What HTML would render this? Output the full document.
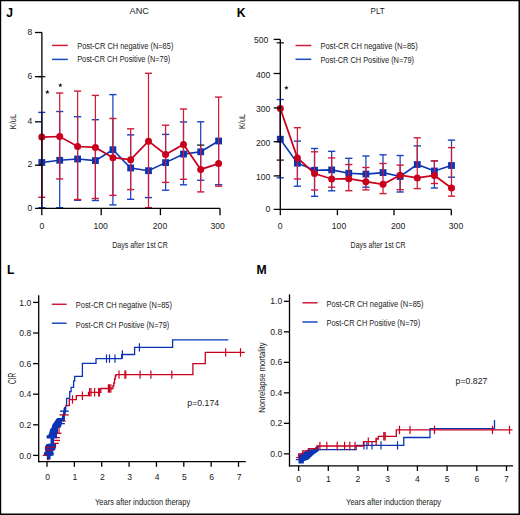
<!DOCTYPE html>
<html><head><meta charset="utf-8"><title>Figure</title>
<style>
html,body{margin:0;padding:0;background:#fff;width:520px;height:515px;overflow:hidden}
svg{display:block}
text{font-family:"Liberation Sans",sans-serif}
</style></head>
<body>
<svg width="520" height="515" viewBox="0 0 520 515">
<rect x="0" y="0" width="520" height="515" fill="#fff"/>
<line x1="0" y1="0.6" x2="520" y2="0.6" stroke="#000" stroke-width="1.2"/>
<line x1="0.6" y1="0" x2="0.6" y2="515" stroke="#000" stroke-width="1.2"/>
<line x1="519.25" y1="0" x2="519.25" y2="515" stroke="#000" stroke-width="1.5"/>
<line x1="0" y1="514.25" x2="520" y2="514.25" stroke="#000" stroke-width="1.5"/>
<text x="6.3" y="16.9" font-size="12.2" font-weight="bold" fill="#000">J</text>
<text x="129.6" y="13.8" font-size="9.1" textLength="19.2" lengthAdjust="spacingAndGlyphs" fill="#1a1a1a">ANC</text>
<line x1="52" y1="45.4" x2="67.8" y2="45.4" stroke="#d01c38" stroke-width="1.5"/>
<line x1="52" y1="59.4" x2="67.8" y2="59.4" stroke="#1a4cc0" stroke-width="1.5"/>
<text x="77.2" y="48.6" font-size="8.3" textLength="96.2" lengthAdjust="spacingAndGlyphs" fill="#1a1a1a">Post-CR CH negative (N=85)</text>
<text x="77.2" y="62.4" font-size="8.3" textLength="93" lengthAdjust="spacingAndGlyphs" fill="#1a1a1a">Post-CR CH Positive (N=79)</text>
<polygon points="47.35,89.8 47.94,91.29 49.54,91.39 48.3,92.41 48.7,93.96 47.35,93.1 46,93.96 46.4,92.41 45.16,91.39 46.76,91.29" fill="#111"/>
<polygon points="60.3,82.9 60.89,84.39 62.49,84.49 61.25,85.51 61.65,87.06 60.3,86.2 58.95,87.06 59.35,85.51 58.11,84.49 59.71,84.39" fill="#111"/>
<line x1="41.8" y1="112.4" x2="41.8" y2="207.7" stroke="#1a44bf" stroke-width="1.25"/>
<line x1="38.2" y1="112.4" x2="45.4" y2="112.4" stroke="#1a44bf" stroke-width="1.4"/>
<line x1="38.2" y1="207.7" x2="45.4" y2="207.7" stroke="#1a44bf" stroke-width="1.4"/>
<line x1="59.7" y1="111.5" x2="59.7" y2="207.7" stroke="#1a44bf" stroke-width="1.25"/>
<line x1="56.1" y1="111.5" x2="63.3" y2="111.5" stroke="#1a44bf" stroke-width="1.4"/>
<line x1="56.1" y1="207.7" x2="63.3" y2="207.7" stroke="#1a44bf" stroke-width="1.4"/>
<line x1="77.6" y1="116.7" x2="77.6" y2="200.3" stroke="#1a44bf" stroke-width="1.25"/>
<line x1="74" y1="116.7" x2="81.2" y2="116.7" stroke="#1a44bf" stroke-width="1.4"/>
<line x1="74" y1="200.3" x2="81.2" y2="200.3" stroke="#1a44bf" stroke-width="1.4"/>
<line x1="95.4" y1="119.7" x2="95.4" y2="200.5" stroke="#1a44bf" stroke-width="1.25"/>
<line x1="91.8" y1="119.7" x2="99" y2="119.7" stroke="#1a44bf" stroke-width="1.4"/>
<line x1="91.8" y1="200.5" x2="99" y2="200.5" stroke="#1a44bf" stroke-width="1.4"/>
<line x1="112.9" y1="94.6" x2="112.9" y2="204.9" stroke="#1a44bf" stroke-width="1.25"/>
<line x1="109.3" y1="94.6" x2="116.5" y2="94.6" stroke="#1a44bf" stroke-width="1.4"/>
<line x1="109.3" y1="204.9" x2="116.5" y2="204.9" stroke="#1a44bf" stroke-width="1.4"/>
<line x1="130.65" y1="134.9" x2="130.65" y2="199.3" stroke="#1a44bf" stroke-width="1.25"/>
<line x1="127.05" y1="134.9" x2="134.25" y2="134.9" stroke="#1a44bf" stroke-width="1.4"/>
<line x1="127.05" y1="199.3" x2="134.25" y2="199.3" stroke="#1a44bf" stroke-width="1.4"/>
<line x1="148.5" y1="170.7" x2="148.5" y2="197.6" stroke="#1a44bf" stroke-width="1.25"/>
<line x1="144.9" y1="197.6" x2="152.1" y2="197.6" stroke="#1a44bf" stroke-width="1.4"/>
<line x1="165.6" y1="134.4" x2="165.6" y2="190.2" stroke="#1a44bf" stroke-width="1.25"/>
<line x1="162" y1="134.4" x2="169.2" y2="134.4" stroke="#1a44bf" stroke-width="1.4"/>
<line x1="162" y1="190.2" x2="169.2" y2="190.2" stroke="#1a44bf" stroke-width="1.4"/>
<line x1="183.5" y1="122" x2="183.5" y2="184.8" stroke="#1a44bf" stroke-width="1.25"/>
<line x1="179.9" y1="122" x2="187.1" y2="122" stroke="#1a44bf" stroke-width="1.4"/>
<line x1="179.9" y1="184.8" x2="187.1" y2="184.8" stroke="#1a44bf" stroke-width="1.4"/>
<line x1="200.7" y1="121.8" x2="200.7" y2="180.3" stroke="#1a44bf" stroke-width="1.25"/>
<line x1="197.1" y1="121.8" x2="204.3" y2="121.8" stroke="#1a44bf" stroke-width="1.4"/>
<line x1="197.1" y1="180.3" x2="204.3" y2="180.3" stroke="#1a44bf" stroke-width="1.4"/>
<line x1="218.6" y1="141" x2="218.6" y2="184.7" stroke="#1a44bf" stroke-width="1.25"/>
<line x1="215" y1="184.7" x2="222.2" y2="184.7" stroke="#1a44bf" stroke-width="1.4"/>
<polyline points="41.8,162.5 59.7,160.3 77.6,159 95.4,160.6 112.9,149.7 130.65,168 148.5,170.7 165.6,162.6 183.5,154.1 200.7,151.8 218.6,141" fill="none" stroke="#0a34b4" stroke-width="1.6" stroke-linejoin="miter"/>
<rect x="38.4" y="159.1" width="6.8" height="6.8" fill="#0a34b4"/>
<rect x="56.3" y="156.9" width="6.8" height="6.8" fill="#0a34b4"/>
<rect x="74.2" y="155.6" width="6.8" height="6.8" fill="#0a34b4"/>
<rect x="92" y="157.2" width="6.8" height="6.8" fill="#0a34b4"/>
<rect x="109.5" y="146.3" width="6.8" height="6.8" fill="#0a34b4"/>
<rect x="127.25" y="164.6" width="6.8" height="6.8" fill="#0a34b4"/>
<rect x="145.1" y="167.3" width="6.8" height="6.8" fill="#0a34b4"/>
<rect x="162.2" y="159.2" width="6.8" height="6.8" fill="#0a34b4"/>
<rect x="180.1" y="150.7" width="6.8" height="6.8" fill="#0a34b4"/>
<rect x="197.3" y="148.4" width="6.8" height="6.8" fill="#0a34b4"/>
<rect x="215.2" y="137.6" width="6.8" height="6.8" fill="#0a34b4"/>
<line x1="41.8" y1="137.1" x2="41.8" y2="197.3" stroke="#d01c36" stroke-width="1.25"/>
<line x1="38.2" y1="197.3" x2="45.4" y2="197.3" stroke="#d01c36" stroke-width="1.4"/>
<line x1="59.7" y1="93" x2="59.7" y2="179" stroke="#d01c36" stroke-width="1.25"/>
<line x1="56.1" y1="93" x2="63.3" y2="93" stroke="#d01c36" stroke-width="1.4"/>
<line x1="56.1" y1="179" x2="63.3" y2="179" stroke="#d01c36" stroke-width="1.4"/>
<line x1="77.6" y1="91.1" x2="77.6" y2="199.5" stroke="#d01c36" stroke-width="1.25"/>
<line x1="74" y1="91.1" x2="81.2" y2="91.1" stroke="#d01c36" stroke-width="1.4"/>
<line x1="74" y1="199.5" x2="81.2" y2="199.5" stroke="#d01c36" stroke-width="1.4"/>
<line x1="95.4" y1="95.4" x2="95.4" y2="198.5" stroke="#d01c36" stroke-width="1.25"/>
<line x1="91.8" y1="95.4" x2="99" y2="95.4" stroke="#d01c36" stroke-width="1.4"/>
<line x1="91.8" y1="198.5" x2="99" y2="198.5" stroke="#d01c36" stroke-width="1.4"/>
<line x1="112.9" y1="118.5" x2="112.9" y2="195.4" stroke="#d01c36" stroke-width="1.25"/>
<line x1="109.3" y1="118.5" x2="116.5" y2="118.5" stroke="#d01c36" stroke-width="1.4"/>
<line x1="109.3" y1="195.4" x2="116.5" y2="195.4" stroke="#d01c36" stroke-width="1.4"/>
<line x1="130.65" y1="128.8" x2="130.65" y2="189.6" stroke="#d01c36" stroke-width="1.25"/>
<line x1="127.05" y1="128.8" x2="134.25" y2="128.8" stroke="#d01c36" stroke-width="1.4"/>
<line x1="127.05" y1="189.6" x2="134.25" y2="189.6" stroke="#d01c36" stroke-width="1.4"/>
<line x1="148.5" y1="73.3" x2="148.5" y2="207.6" stroke="#d01c36" stroke-width="1.25"/>
<line x1="144.9" y1="73.3" x2="152.1" y2="73.3" stroke="#d01c36" stroke-width="1.4"/>
<line x1="144.9" y1="207.6" x2="152.1" y2="207.6" stroke="#d01c36" stroke-width="1.4"/>
<line x1="165.6" y1="125.2" x2="165.6" y2="182.4" stroke="#d01c36" stroke-width="1.25"/>
<line x1="162" y1="125.2" x2="169.2" y2="125.2" stroke="#d01c36" stroke-width="1.4"/>
<line x1="162" y1="182.4" x2="169.2" y2="182.4" stroke="#d01c36" stroke-width="1.4"/>
<line x1="183.5" y1="109" x2="183.5" y2="179.3" stroke="#d01c36" stroke-width="1.25"/>
<line x1="179.9" y1="109" x2="187.1" y2="109" stroke="#d01c36" stroke-width="1.4"/>
<line x1="179.9" y1="179.3" x2="187.1" y2="179.3" stroke="#d01c36" stroke-width="1.4"/>
<line x1="200.7" y1="145.1" x2="200.7" y2="191.9" stroke="#d01c36" stroke-width="1.25"/>
<line x1="197.1" y1="191.9" x2="204.3" y2="191.9" stroke="#d01c36" stroke-width="1.4"/>
<line x1="218.6" y1="97.1" x2="218.6" y2="186.2" stroke="#d01c36" stroke-width="1.25"/>
<line x1="215" y1="97.1" x2="222.2" y2="97.1" stroke="#d01c36" stroke-width="1.4"/>
<line x1="215" y1="186.2" x2="222.2" y2="186.2" stroke="#d01c36" stroke-width="1.4"/>
<line x1="38.2" y1="76.65" x2="45.4" y2="76.65" stroke="#2a2a2a" stroke-width="1.4"/>
<line x1="197.1" y1="145.1" x2="204.3" y2="145.1" stroke="#2a2a2a" stroke-width="1.4"/>
<polyline points="41.8,137.1 59.7,136.5 77.6,146.5 95.4,147.4 112.9,157.7 130.65,159.7 148.5,141.2 165.6,154.4 183.5,144.4 200.7,169.4 218.6,163.6" fill="none" stroke="#c8001e" stroke-width="1.7" stroke-linejoin="miter"/>
<circle cx="41.8" cy="137.1" r="3.5" fill="#c8001e"/>
<circle cx="59.7" cy="136.5" r="3.5" fill="#c8001e"/>
<circle cx="77.6" cy="146.5" r="3.5" fill="#c8001e"/>
<circle cx="95.4" cy="147.4" r="3.5" fill="#c8001e"/>
<circle cx="112.9" cy="157.7" r="3.5" fill="#c8001e"/>
<circle cx="130.65" cy="159.7" r="3.5" fill="#c8001e"/>
<circle cx="148.5" cy="141.2" r="3.5" fill="#c8001e"/>
<circle cx="165.6" cy="154.4" r="3.5" fill="#c8001e"/>
<circle cx="183.5" cy="144.4" r="3.5" fill="#c8001e"/>
<circle cx="200.7" cy="169.4" r="3.5" fill="#c8001e"/>
<circle cx="218.6" cy="163.6" r="3.5" fill="#c8001e"/>
<line x1="41.9" y1="32.5" x2="41.9" y2="209.05" stroke="#000" stroke-width="1.3"/>
<line x1="35" y1="208.4" x2="220.2" y2="208.4" stroke="#000" stroke-width="1.3"/>
<line x1="35" y1="32.5" x2="41.9" y2="32.5" stroke="#000" stroke-width="1.3"/>
<line x1="35" y1="76.65" x2="41.9" y2="76.65" stroke="#000" stroke-width="1.3"/>
<line x1="35" y1="121.8" x2="41.9" y2="121.8" stroke="#000" stroke-width="1.3"/>
<line x1="35" y1="165.2" x2="41.9" y2="165.2" stroke="#000" stroke-width="1.3"/>
<line x1="41.8" y1="208.4" x2="41.8" y2="215.2" stroke="#000" stroke-width="1.3"/>
<line x1="101.2" y1="208.4" x2="101.2" y2="215.2" stroke="#000" stroke-width="1.3"/>
<line x1="160.4" y1="208.4" x2="160.4" y2="215.2" stroke="#000" stroke-width="1.3"/>
<line x1="220" y1="208.4" x2="220" y2="215.2" stroke="#000" stroke-width="1.3"/>
<text x="32.3" y="34.6" font-size="8.6" text-anchor="end" fill="#1a1a1a">8</text>
<text x="32.3" y="78.75" font-size="8.6" text-anchor="end" fill="#1a1a1a">6</text>
<text x="32.3" y="123.9" font-size="8.6" text-anchor="end" fill="#1a1a1a">4</text>
<text x="32.3" y="167.3" font-size="8.6" text-anchor="end" fill="#1a1a1a">2</text>
<text x="32.3" y="210.5" font-size="8.6" text-anchor="end" fill="#1a1a1a">0</text>
<text x="41.8" y="229.2" font-size="8.6" text-anchor="middle" fill="#1a1a1a">0</text>
<text x="100.6" y="229.2" font-size="8.6" text-anchor="middle" fill="#1a1a1a">100</text>
<text x="160" y="229.2" font-size="8.6" text-anchor="middle" fill="#1a1a1a">200</text>
<text x="217.7" y="229.2" font-size="8.6" text-anchor="middle" fill="#1a1a1a">300</text>
<text x="112.2" y="247.9" font-size="9.6" textLength="55.6" lengthAdjust="spacingAndGlyphs" fill="#1a1a1a">Days after 1st CR</text>
<text x="16.2" y="121.6" font-size="9.8" textLength="15.2" lengthAdjust="spacingAndGlyphs" text-anchor="middle" fill="#1a1a1a" transform="rotate(-90 16.2 121.6)">K/uL</text>
<text x="236.8" y="16.7" font-size="12.2" font-weight="bold" fill="#000">K</text>
<text x="370.6" y="13.8" font-size="9.1" textLength="14" lengthAdjust="spacingAndGlyphs" fill="#1a1a1a">PLT</text>
<line x1="295.5" y1="45.5" x2="311.3" y2="45.5" stroke="#d01c38" stroke-width="1.5"/>
<line x1="295.5" y1="59.3" x2="311.3" y2="59.3" stroke="#1a4cc0" stroke-width="1.5"/>
<text x="320.4" y="48.8" font-size="8.3" textLength="97.4" lengthAdjust="spacingAndGlyphs" fill="#1a1a1a">Post-CR CH negative (N=85)</text>
<text x="320.4" y="62.6" font-size="8.3" textLength="93.6" lengthAdjust="spacingAndGlyphs" fill="#1a1a1a">Post-CR CH Positive (N=79)</text>
<polygon points="286.4,85.5 286.99,86.99 288.59,87.09 287.35,88.11 287.75,89.66 286.4,88.8 285.05,89.66 285.45,88.11 284.21,87.09 285.81,86.99" fill="#111"/>
<line x1="280.3" y1="99.5" x2="280.3" y2="177.8" stroke="#1a44bf" stroke-width="1.25"/>
<line x1="276.7" y1="99.5" x2="283.9" y2="99.5" stroke="#1a44bf" stroke-width="1.4"/>
<line x1="276.7" y1="177.8" x2="283.9" y2="177.8" stroke="#1a44bf" stroke-width="1.4"/>
<line x1="297.42" y1="141.1" x2="297.42" y2="186.2" stroke="#1a44bf" stroke-width="1.25"/>
<line x1="293.82" y1="141.1" x2="301.02" y2="141.1" stroke="#1a44bf" stroke-width="1.4"/>
<line x1="293.82" y1="186.2" x2="301.02" y2="186.2" stroke="#1a44bf" stroke-width="1.4"/>
<line x1="314.54" y1="148.5" x2="314.54" y2="196.3" stroke="#1a44bf" stroke-width="1.25"/>
<line x1="310.94" y1="148.5" x2="318.14" y2="148.5" stroke="#1a44bf" stroke-width="1.4"/>
<line x1="310.94" y1="196.3" x2="318.14" y2="196.3" stroke="#1a44bf" stroke-width="1.4"/>
<line x1="331.66" y1="151.3" x2="331.66" y2="190.8" stroke="#1a44bf" stroke-width="1.25"/>
<line x1="328.06" y1="151.3" x2="335.26" y2="151.3" stroke="#1a44bf" stroke-width="1.4"/>
<line x1="328.06" y1="190.8" x2="335.26" y2="190.8" stroke="#1a44bf" stroke-width="1.4"/>
<line x1="348.78" y1="158.3" x2="348.78" y2="173.2" stroke="#1a44bf" stroke-width="1.25"/>
<line x1="345.18" y1="158.3" x2="352.38" y2="158.3" stroke="#1a44bf" stroke-width="1.4"/>
<line x1="365.9" y1="156" x2="365.9" y2="187.2" stroke="#1a44bf" stroke-width="1.25"/>
<line x1="362.3" y1="156" x2="369.5" y2="156" stroke="#1a44bf" stroke-width="1.4"/>
<line x1="362.3" y1="187.2" x2="369.5" y2="187.2" stroke="#1a44bf" stroke-width="1.4"/>
<line x1="383.02" y1="154.8" x2="383.02" y2="172.6" stroke="#1a44bf" stroke-width="1.25"/>
<line x1="379.42" y1="154.8" x2="386.62" y2="154.8" stroke="#1a44bf" stroke-width="1.4"/>
<line x1="400.14" y1="155.5" x2="400.14" y2="192" stroke="#1a44bf" stroke-width="1.25"/>
<line x1="396.54" y1="155.5" x2="403.74" y2="155.5" stroke="#1a44bf" stroke-width="1.4"/>
<line x1="396.54" y1="192" x2="403.74" y2="192" stroke="#1a44bf" stroke-width="1.4"/>
<line x1="417.26" y1="145.9" x2="417.26" y2="164.5" stroke="#1a44bf" stroke-width="1.25"/>
<line x1="413.66" y1="145.9" x2="420.86" y2="145.9" stroke="#1a44bf" stroke-width="1.4"/>
<line x1="434.38" y1="161" x2="434.38" y2="188" stroke="#1a44bf" stroke-width="1.25"/>
<line x1="430.78" y1="161" x2="437.98" y2="161" stroke="#1a44bf" stroke-width="1.4"/>
<line x1="430.78" y1="188" x2="437.98" y2="188" stroke="#1a44bf" stroke-width="1.4"/>
<line x1="451.5" y1="140.1" x2="451.5" y2="177.2" stroke="#1a44bf" stroke-width="1.25"/>
<line x1="447.9" y1="140.1" x2="455.1" y2="140.1" stroke="#1a44bf" stroke-width="1.4"/>
<line x1="447.9" y1="177.2" x2="455.1" y2="177.2" stroke="#1a44bf" stroke-width="1.4"/>
<polyline points="280.3,139.2 297.42,163.2 314.54,170.2 331.66,169.9 348.78,173.2 365.9,174.1 383.02,172.6 400.14,176.5 417.26,164.5 434.38,171 451.5,165.5" fill="none" stroke="#0a34b4" stroke-width="1.6" stroke-linejoin="miter"/>
<rect x="276.9" y="135.8" width="6.8" height="6.8" fill="#0a34b4"/>
<rect x="294.02" y="159.8" width="6.8" height="6.8" fill="#0a34b4"/>
<rect x="311.14" y="166.8" width="6.8" height="6.8" fill="#0a34b4"/>
<rect x="328.26" y="166.5" width="6.8" height="6.8" fill="#0a34b4"/>
<rect x="345.38" y="169.8" width="6.8" height="6.8" fill="#0a34b4"/>
<rect x="362.5" y="170.7" width="6.8" height="6.8" fill="#0a34b4"/>
<rect x="379.62" y="169.2" width="6.8" height="6.8" fill="#0a34b4"/>
<rect x="396.74" y="173.1" width="6.8" height="6.8" fill="#0a34b4"/>
<rect x="413.86" y="161.1" width="6.8" height="6.8" fill="#0a34b4"/>
<rect x="430.98" y="167.6" width="6.8" height="6.8" fill="#0a34b4"/>
<rect x="448.1" y="162.1" width="6.8" height="6.8" fill="#0a34b4"/>
<line x1="280.3" y1="108.6" x2="280.3" y2="176" stroke="#d01c36" stroke-width="1.25"/>
<line x1="297.42" y1="127.7" x2="297.42" y2="179" stroke="#d01c36" stroke-width="1.25"/>
<line x1="293.82" y1="127.7" x2="301.02" y2="127.7" stroke="#d01c36" stroke-width="1.4"/>
<line x1="293.82" y1="179" x2="301.02" y2="179" stroke="#d01c36" stroke-width="1.4"/>
<line x1="314.54" y1="151.8" x2="314.54" y2="190" stroke="#d01c36" stroke-width="1.25"/>
<line x1="310.94" y1="151.8" x2="318.14" y2="151.8" stroke="#d01c36" stroke-width="1.4"/>
<line x1="310.94" y1="190" x2="318.14" y2="190" stroke="#d01c36" stroke-width="1.4"/>
<line x1="331.66" y1="157.9" x2="331.66" y2="187.2" stroke="#d01c36" stroke-width="1.25"/>
<line x1="328.06" y1="157.9" x2="335.26" y2="157.9" stroke="#d01c36" stroke-width="1.4"/>
<line x1="328.06" y1="187.2" x2="335.26" y2="187.2" stroke="#d01c36" stroke-width="1.4"/>
<line x1="348.78" y1="164.5" x2="348.78" y2="190.7" stroke="#d01c36" stroke-width="1.25"/>
<line x1="345.18" y1="164.5" x2="352.38" y2="164.5" stroke="#d01c36" stroke-width="1.4"/>
<line x1="345.18" y1="190.7" x2="352.38" y2="190.7" stroke="#d01c36" stroke-width="1.4"/>
<line x1="365.9" y1="167.5" x2="365.9" y2="189.9" stroke="#d01c36" stroke-width="1.25"/>
<line x1="362.3" y1="167.5" x2="369.5" y2="167.5" stroke="#d01c36" stroke-width="1.4"/>
<line x1="362.3" y1="189.9" x2="369.5" y2="189.9" stroke="#d01c36" stroke-width="1.4"/>
<line x1="383.02" y1="163.5" x2="383.02" y2="193.6" stroke="#d01c36" stroke-width="1.25"/>
<line x1="379.42" y1="163.5" x2="386.62" y2="163.5" stroke="#d01c36" stroke-width="1.4"/>
<line x1="379.42" y1="193.6" x2="386.62" y2="193.6" stroke="#d01c36" stroke-width="1.4"/>
<line x1="400.14" y1="165.1" x2="400.14" y2="189.7" stroke="#d01c36" stroke-width="1.25"/>
<line x1="396.54" y1="165.1" x2="403.74" y2="165.1" stroke="#d01c36" stroke-width="1.4"/>
<line x1="396.54" y1="189.7" x2="403.74" y2="189.7" stroke="#d01c36" stroke-width="1.4"/>
<line x1="417.26" y1="137.8" x2="417.26" y2="188.6" stroke="#d01c36" stroke-width="1.25"/>
<line x1="413.66" y1="137.8" x2="420.86" y2="137.8" stroke="#d01c36" stroke-width="1.4"/>
<line x1="413.66" y1="188.6" x2="420.86" y2="188.6" stroke="#d01c36" stroke-width="1.4"/>
<line x1="434.38" y1="160.8" x2="434.38" y2="183.5" stroke="#d01c36" stroke-width="1.25"/>
<line x1="430.78" y1="160.8" x2="437.98" y2="160.8" stroke="#d01c36" stroke-width="1.4"/>
<line x1="430.78" y1="183.5" x2="437.98" y2="183.5" stroke="#d01c36" stroke-width="1.4"/>
<line x1="451.5" y1="147.6" x2="451.5" y2="196.2" stroke="#d01c36" stroke-width="1.25"/>
<line x1="447.9" y1="147.6" x2="455.1" y2="147.6" stroke="#d01c36" stroke-width="1.4"/>
<line x1="447.9" y1="196.2" x2="455.1" y2="196.2" stroke="#d01c36" stroke-width="1.4"/>
<line x1="276.7" y1="42.8" x2="283.9" y2="42.8" stroke="#2a2a2a" stroke-width="1.4"/>
<line x1="276.7" y1="160.1" x2="283.9" y2="160.1" stroke="#2a2a2a" stroke-width="1.4"/>
<polyline points="280.3,108.6 297.42,157.9 314.54,173.5 331.66,179 348.78,178.7 365.9,181.7 383.02,184.3 400.14,175.2 417.26,177.9 434.38,175.5 451.5,188" fill="none" stroke="#c8001e" stroke-width="1.7" stroke-linejoin="miter"/>
<circle cx="280.3" cy="108.6" r="3.5" fill="#c8001e"/>
<circle cx="297.42" cy="157.9" r="3.5" fill="#c8001e"/>
<circle cx="314.54" cy="173.5" r="3.5" fill="#c8001e"/>
<circle cx="331.66" cy="179" r="3.5" fill="#c8001e"/>
<circle cx="348.78" cy="178.7" r="3.5" fill="#c8001e"/>
<circle cx="365.9" cy="181.7" r="3.5" fill="#c8001e"/>
<circle cx="383.02" cy="184.3" r="3.5" fill="#c8001e"/>
<circle cx="400.14" cy="175.2" r="3.5" fill="#c8001e"/>
<circle cx="417.26" cy="177.9" r="3.5" fill="#c8001e"/>
<circle cx="434.38" cy="175.5" r="3.5" fill="#c8001e"/>
<circle cx="451.5" cy="188" r="3.5" fill="#c8001e"/>
<line x1="280.3" y1="39.4" x2="280.3" y2="210.05" stroke="#000" stroke-width="1.3"/>
<line x1="273.7" y1="209.4" x2="451.3" y2="209.4" stroke="#000" stroke-width="1.3"/>
<line x1="273.7" y1="39.4" x2="280.3" y2="39.4" stroke="#000" stroke-width="1.3"/>
<line x1="273.7" y1="73.5" x2="280.3" y2="73.5" stroke="#000" stroke-width="1.3"/>
<line x1="273.7" y1="107.9" x2="280.3" y2="107.9" stroke="#000" stroke-width="1.3"/>
<line x1="273.7" y1="141.7" x2="280.3" y2="141.7" stroke="#000" stroke-width="1.3"/>
<line x1="273.7" y1="175.9" x2="280.3" y2="175.9" stroke="#000" stroke-width="1.3"/>
<line x1="280.3" y1="209.4" x2="280.3" y2="215.2" stroke="#000" stroke-width="1.3"/>
<line x1="337.4" y1="209.4" x2="337.4" y2="215.2" stroke="#000" stroke-width="1.3"/>
<line x1="394" y1="209.4" x2="394" y2="215.2" stroke="#000" stroke-width="1.3"/>
<line x1="451.3" y1="209.4" x2="451.3" y2="215.2" stroke="#000" stroke-width="1.3"/>
<text x="268.3" y="43.4" font-size="8.6" text-anchor="end" fill="#1a1a1a">500</text>
<text x="270.3" y="77.6" font-size="8.6" text-anchor="end" fill="#1a1a1a">400</text>
<text x="270.3" y="112" font-size="8.6" text-anchor="end" fill="#1a1a1a">300</text>
<text x="270.3" y="145.8" font-size="8.6" text-anchor="end" fill="#1a1a1a">200</text>
<text x="270.3" y="180" font-size="8.6" text-anchor="end" fill="#1a1a1a">100</text>
<text x="270.3" y="212.4" font-size="8.6" text-anchor="end" fill="#1a1a1a">0</text>
<text x="280.2" y="229.2" font-size="8.6" text-anchor="middle" fill="#1a1a1a">0</text>
<text x="339" y="229.2" font-size="8.6" text-anchor="middle" fill="#1a1a1a">100</text>
<text x="398.1" y="229.2" font-size="8.6" text-anchor="middle" fill="#1a1a1a">200</text>
<text x="456" y="229.2" font-size="8.6" text-anchor="middle" fill="#1a1a1a">300</text>
<text x="350.6" y="248" font-size="9.6" textLength="55" lengthAdjust="spacingAndGlyphs" fill="#1a1a1a">Days after 1st CR</text>
<text x="245.4" y="121.5" font-size="9.8" textLength="15.2" lengthAdjust="spacingAndGlyphs" text-anchor="middle" fill="#1a1a1a" transform="rotate(-90 245.4 121.5)">K/uL</text>
<text x="6.9" y="273.9" font-size="12.2" font-weight="bold" fill="#000">L</text>
<line x1="51.8" y1="304.3" x2="66.6" y2="304.3" stroke="#d01c38" stroke-width="1.5"/>
<line x1="51.8" y1="323.2" x2="66.6" y2="323.2" stroke="#1a4cc0" stroke-width="1.5"/>
<text x="75.8" y="308.1" font-size="8.3" textLength="96.2" lengthAdjust="spacingAndGlyphs" fill="#1a1a1a">Post-CR CH negative (N=85)</text>
<text x="75.8" y="327.5" font-size="8.3" textLength="93.4" lengthAdjust="spacingAndGlyphs" fill="#1a1a1a">Post-CR CH Positive (N=79)</text>
<polygon points="62.2,415.4 64.9,415.4 64.9,420.9 62.2,421.5 61.5,425 60.9,427.4 58,428 58,433.3 57,434.7 57,438.6 54.1,438.6 54.1,443.4 56.1,443.9 56.1,446.8 55.1,450 52.5,451.5 53.7,452.4 53.7,455.5 50.6,456 50.6,459.5 46.8,459.5 46.8,456 44,455.5 44,452.4 45.5,451.5 44.9,450 44.9,446.8 46.6,443.9 50.5,443.4 50.5,438.6 46.6,438.6 46.6,435.5 48.5,434.7 49.3,432.8 50,429.5 51.7,427.4 52.2,425 57.1,418.1 62.2,418.1" fill="#0a34b4"/>
<polyline points="62.2,421 63.6,415.5 64.5,412.7 65.3,407.2" fill="none" stroke="#0a34b4" stroke-width="2.6" stroke-linejoin="miter"/>
<polyline points="57.5,423.5 62.2,420.5 63.6,415.5 64.8,412.7 65.5,407.2 66.6,405.2 66.6,398.4 69.7,398.4 69.7,391.6 71.1,391.6 71.1,387.3 73.6,387.3 73.6,380.8 74.7,380.8 74.7,376.4 82.4,376.4 82.4,363.4 96,363.4 96,358.6 121.7,358.6 121.7,354.5 134.6,354.5 134.6,347.4 172.6,347.4 172.6,339.9 228.3,339.9" fill="none" stroke="#0a34b4" stroke-width="1.3" stroke-linejoin="miter"/>
<line x1="106.5" y1="354.4" x2="106.5" y2="362.8" stroke="#0a34b4" stroke-width="1.2"/>
<line x1="109.5" y1="354.4" x2="109.5" y2="362.8" stroke="#0a34b4" stroke-width="1.2"/>
<line x1="115" y1="354.4" x2="115" y2="362.8" stroke="#0a34b4" stroke-width="1.2"/>
<line x1="122.4" y1="350.3" x2="122.4" y2="358.7" stroke="#0a34b4" stroke-width="1.2"/>
<line x1="139.4" y1="343.2" x2="139.4" y2="351.6" stroke="#0a34b4" stroke-width="1.2"/>
<line x1="60.1" y1="411.2" x2="68.7" y2="411.2" stroke="#0a34b4" stroke-width="1.4"/>
<line x1="64.4" y1="407.7" x2="64.4" y2="414.7" stroke="#0a34b4" stroke-width="1.3"/>
<line x1="54.1" y1="423.6" x2="64.9" y2="423.6" stroke="#0a34b4" stroke-width="1.4"/>
<line x1="59.5" y1="420.1" x2="59.5" y2="427.1" stroke="#0a34b4" stroke-width="1.3"/>
<polyline points="65.3,405.6 69.3,405.6 69.3,399.6 76.3,399.6 76.3,395.7 88.5,395.7 88.5,392.3 100.8,392.3 100.8,388.5 112.9,388.5 112.9,386 113.8,386 113.8,383 114.5,383 114.5,379 115.3,379 115.3,376 116,376 116,374.6 192.9,374.6 192.9,363.6 205.3,363.6 205.3,352.4 244.8,352.4" fill="none" stroke="#c8001e" stroke-width="1.3" stroke-linejoin="miter"/>
<line x1="72.5" y1="395.2" x2="72.5" y2="403.6" stroke="#c8001e" stroke-width="1.2"/>
<line x1="82.4" y1="391.5" x2="82.4" y2="399.9" stroke="#c8001e" stroke-width="1.2"/>
<line x1="89.6" y1="388.1" x2="89.6" y2="396.5" stroke="#c8001e" stroke-width="1.2"/>
<line x1="91" y1="388.1" x2="91" y2="396.5" stroke="#c8001e" stroke-width="1.2"/>
<line x1="94.6" y1="388.1" x2="94.6" y2="396.5" stroke="#c8001e" stroke-width="1.2"/>
<line x1="98.7" y1="388.1" x2="98.7" y2="396.5" stroke="#c8001e" stroke-width="1.2"/>
<line x1="99.4" y1="388.1" x2="99.4" y2="396.5" stroke="#c8001e" stroke-width="1.2"/>
<line x1="108.4" y1="384.3" x2="108.4" y2="392.7" stroke="#c8001e" stroke-width="1.2"/>
<line x1="109.5" y1="384.3" x2="109.5" y2="392.7" stroke="#c8001e" stroke-width="1.2"/>
<line x1="110.9" y1="384.3" x2="110.9" y2="392.7" stroke="#c8001e" stroke-width="1.2"/>
<line x1="119" y1="370.4" x2="119" y2="378.8" stroke="#c8001e" stroke-width="1.2"/>
<line x1="124.9" y1="370.4" x2="124.9" y2="378.8" stroke="#c8001e" stroke-width="1.2"/>
<line x1="125.8" y1="370.4" x2="125.8" y2="378.8" stroke="#c8001e" stroke-width="1.2"/>
<line x1="140.1" y1="370.4" x2="140.1" y2="378.8" stroke="#c8001e" stroke-width="1.2"/>
<line x1="150.9" y1="370.4" x2="150.9" y2="378.8" stroke="#c8001e" stroke-width="1.2"/>
<line x1="171.8" y1="370.4" x2="171.8" y2="378.8" stroke="#c8001e" stroke-width="1.2"/>
<line x1="225.7" y1="348.2" x2="225.7" y2="356.6" stroke="#c8001e" stroke-width="1.2"/>
<line x1="240.5" y1="348.2" x2="240.5" y2="356.6" stroke="#c8001e" stroke-width="1.2"/>
<line x1="42.8" y1="455.3" x2="46.8" y2="455.3" stroke="#c8001e" stroke-width="1.3"/>
<line x1="47.1" y1="459.6" x2="48.9" y2="459.6" stroke="#c8001e" stroke-width="1.3"/>
<line x1="45.4" y1="447.3" x2="49.5" y2="447.3" stroke="#c8001e" stroke-width="1.3"/>
<line x1="51" y1="447.3" x2="55.6" y2="447.3" stroke="#c8001e" stroke-width="1.3"/>
<line x1="45.6" y1="449.9" x2="52.4" y2="449.9" stroke="#c8001e" stroke-width="1.3"/>
<line x1="57" y1="433.3" x2="61.4" y2="433.3" stroke="#c8001e" stroke-width="1.3"/>
<line x1="57" y1="437.6" x2="60" y2="437.6" stroke="#c8001e" stroke-width="1.3"/>
<line x1="54.1" y1="440.4" x2="60" y2="440.4" stroke="#c8001e" stroke-width="1.3"/>
<line x1="53.4" y1="443.4" x2="58.7" y2="443.4" stroke="#c8001e" stroke-width="1.3"/>
<line x1="59.5" y1="414.9" x2="68.7" y2="414.9" stroke="#c8001e" stroke-width="1.3"/>
<line x1="62.9" y1="421" x2="65.6" y2="421" stroke="#c8001e" stroke-width="1.3"/>
<line x1="59" y1="427.4" x2="59" y2="433.3" stroke="#c8001e" stroke-width="1.2"/>
<line x1="38.7" y1="295.2" x2="38.7" y2="462.25" stroke="#000" stroke-width="1.3"/>
<line x1="38.05" y1="461.6" x2="245.8" y2="461.6" stroke="#000" stroke-width="1.3"/>
<line x1="33.1" y1="302.4" x2="38.7" y2="302.4" stroke="#000" stroke-width="1.3"/>
<line x1="33.1" y1="333" x2="38.7" y2="333" stroke="#000" stroke-width="1.3"/>
<line x1="33.1" y1="363.6" x2="38.7" y2="363.6" stroke="#000" stroke-width="1.3"/>
<line x1="33.1" y1="394.2" x2="38.7" y2="394.2" stroke="#000" stroke-width="1.3"/>
<line x1="33.1" y1="424.8" x2="38.7" y2="424.8" stroke="#000" stroke-width="1.3"/>
<line x1="33.1" y1="455.4" x2="38.7" y2="455.4" stroke="#000" stroke-width="1.3"/>
<line x1="47" y1="461.6" x2="47" y2="466.8" stroke="#000" stroke-width="1.3"/>
<line x1="74.36" y1="461.6" x2="74.36" y2="466.8" stroke="#000" stroke-width="1.3"/>
<line x1="101.72" y1="461.6" x2="101.72" y2="466.8" stroke="#000" stroke-width="1.3"/>
<line x1="129.08" y1="461.6" x2="129.08" y2="466.8" stroke="#000" stroke-width="1.3"/>
<line x1="156.44" y1="461.6" x2="156.44" y2="466.8" stroke="#000" stroke-width="1.3"/>
<line x1="183.8" y1="461.6" x2="183.8" y2="466.8" stroke="#000" stroke-width="1.3"/>
<line x1="211.16" y1="461.6" x2="211.16" y2="466.8" stroke="#000" stroke-width="1.3"/>
<line x1="238.52" y1="461.6" x2="238.52" y2="466.8" stroke="#000" stroke-width="1.3"/>
<text x="31.3" y="305.5" font-size="8.6" text-anchor="end" fill="#1a1a1a">1.0</text>
<text x="31.3" y="336.1" font-size="8.6" text-anchor="end" fill="#1a1a1a">0.8</text>
<text x="31.3" y="366.7" font-size="8.6" text-anchor="end" fill="#1a1a1a">0.6</text>
<text x="31.3" y="397.3" font-size="8.6" text-anchor="end" fill="#1a1a1a">0.4</text>
<text x="31.3" y="427.9" font-size="8.6" text-anchor="end" fill="#1a1a1a">0.2</text>
<text x="31.3" y="458.5" font-size="8.6" text-anchor="end" fill="#1a1a1a">0.0</text>
<text x="47.6" y="479.6" font-size="8.6" text-anchor="middle" fill="#1a1a1a">0</text>
<text x="74.96" y="479.6" font-size="8.6" text-anchor="middle" fill="#1a1a1a">1</text>
<text x="102.32" y="479.6" font-size="8.6" text-anchor="middle" fill="#1a1a1a">2</text>
<text x="129.68" y="479.6" font-size="8.6" text-anchor="middle" fill="#1a1a1a">3</text>
<text x="157.04" y="479.6" font-size="8.6" text-anchor="middle" fill="#1a1a1a">4</text>
<text x="184.4" y="479.6" font-size="8.6" text-anchor="middle" fill="#1a1a1a">5</text>
<text x="211.76" y="479.6" font-size="8.6" text-anchor="middle" fill="#1a1a1a">6</text>
<text x="239.12" y="479.6" font-size="8.6" text-anchor="middle" fill="#1a1a1a">7</text>
<text x="95" y="505.3" font-size="9.8" textLength="95.2" lengthAdjust="spacingAndGlyphs" fill="#1a1a1a">Years after induction therapy</text>
<text x="16" y="378.5" font-size="10.2" textLength="11" lengthAdjust="spacingAndGlyphs" text-anchor="middle" fill="#1a1a1a" transform="rotate(-90 16.0 378.5)">CIR</text>
<text x="187.3" y="406.2" font-size="8.3" textLength="31.8" lengthAdjust="spacingAndGlyphs" fill="#1a1a1a">p=0.174</text>
<text x="256.6" y="273.9" font-size="12.2" font-weight="bold" fill="#000">M</text>
<line x1="302.4" y1="302.8" x2="317.6" y2="302.8" stroke="#d01c38" stroke-width="1.5"/>
<line x1="302.4" y1="322" x2="317.6" y2="322" stroke="#1a4cc0" stroke-width="1.5"/>
<text x="326.5" y="307" font-size="8.3" textLength="97" lengthAdjust="spacingAndGlyphs" fill="#1a1a1a">Post-CR CH negative (N=85)</text>
<text x="326.5" y="326" font-size="8.3" textLength="93.7" lengthAdjust="spacingAndGlyphs" fill="#1a1a1a">Post-CR CH Positive (N=79)</text>
<polygon points="298.5,463.5 298.5,455 302.7,452.7 308.1,449.2 313.1,449.2 317.3,445.8 318.8,445.8 318.8,451 313.1,455 308.5,459.6 303.8,461.2 303.8,463.5" fill="#0a34b4"/>
<line x1="295.8" y1="459.6" x2="300" y2="459.6" stroke="#0a34b4" stroke-width="1.2"/>
<polyline points="317.5,449.6 356.1,449.6 356.1,445.4 403.75,445.4 403.75,437.5 430,437.5 430,428.6 494.5,428.6 494.5,420" fill="none" stroke="#0a34b4" stroke-width="1.3" stroke-linejoin="miter"/>
<line x1="364" y1="441.2" x2="364" y2="449.6" stroke="#0a34b4" stroke-width="1.2"/>
<line x1="366.9" y1="441.2" x2="366.9" y2="449.6" stroke="#0a34b4" stroke-width="1.2"/>
<line x1="372" y1="441.2" x2="372" y2="449.6" stroke="#0a34b4" stroke-width="1.2"/>
<line x1="381" y1="441.2" x2="381" y2="449.6" stroke="#0a34b4" stroke-width="1.2"/>
<line x1="397.5" y1="441.2" x2="397.5" y2="449.6" stroke="#0a34b4" stroke-width="1.2"/>
<polyline points="296.2,457.7 298.6,457.7 298.6,453.8 302.7,453.8 302.7,450.8 308.5,450.8 308.5,448.7 316.9,448.7 316.9,446 363.5,446 363.5,441.7 376.2,441.7 376.2,439 378.3,439 378.3,436.3 396.3,436.3 396.3,429.9 512.5,429.9" fill="none" stroke="#c8001e" stroke-width="1.3" stroke-linejoin="miter"/>
<line x1="319.9" y1="441.8" x2="319.9" y2="450.2" stroke="#c8001e" stroke-width="1.2"/>
<line x1="326.8" y1="441.8" x2="326.8" y2="450.2" stroke="#c8001e" stroke-width="1.2"/>
<line x1="337.2" y1="441.8" x2="337.2" y2="450.2" stroke="#c8001e" stroke-width="1.2"/>
<line x1="344.6" y1="441.8" x2="344.6" y2="450.2" stroke="#c8001e" stroke-width="1.2"/>
<line x1="349.8" y1="441.8" x2="349.8" y2="450.2" stroke="#c8001e" stroke-width="1.2"/>
<line x1="355" y1="441.8" x2="355" y2="450.2" stroke="#c8001e" stroke-width="1.2"/>
<line x1="368.3" y1="437.5" x2="368.3" y2="445.9" stroke="#c8001e" stroke-width="1.2"/>
<line x1="376.2" y1="437.5" x2="376.2" y2="445.9" stroke="#c8001e" stroke-width="1.2"/>
<line x1="383.9" y1="432.1" x2="383.9" y2="440.5" stroke="#c8001e" stroke-width="1.4"/>
<line x1="385.1" y1="432.1" x2="385.1" y2="440.5" stroke="#c8001e" stroke-width="1.4"/>
<line x1="399.5" y1="425.7" x2="399.5" y2="434.1" stroke="#c8001e" stroke-width="1.2"/>
<line x1="410" y1="425.7" x2="410" y2="434.1" stroke="#c8001e" stroke-width="1.2"/>
<line x1="434.5" y1="425.7" x2="434.5" y2="434.1" stroke="#c8001e" stroke-width="1.2"/>
<line x1="492.5" y1="425.7" x2="492.5" y2="434.1" stroke="#c8001e" stroke-width="1.2"/>
<line x1="509.5" y1="425.7" x2="509.5" y2="434.1" stroke="#c8001e" stroke-width="1.2"/>
<line x1="289.5" y1="294.3" x2="289.5" y2="466.45" stroke="#000" stroke-width="1.3"/>
<line x1="288.85" y1="465.8" x2="513.1" y2="465.8" stroke="#000" stroke-width="1.3"/>
<line x1="283.9" y1="301.35" x2="289.5" y2="301.35" stroke="#000" stroke-width="1.3"/>
<line x1="283.9" y1="331.85" x2="289.5" y2="331.85" stroke="#000" stroke-width="1.3"/>
<line x1="283.9" y1="362.35" x2="289.5" y2="362.35" stroke="#000" stroke-width="1.3"/>
<line x1="283.9" y1="392.85" x2="289.5" y2="392.85" stroke="#000" stroke-width="1.3"/>
<line x1="283.9" y1="423.35" x2="289.5" y2="423.35" stroke="#000" stroke-width="1.3"/>
<line x1="283.9" y1="453.85" x2="289.5" y2="453.85" stroke="#000" stroke-width="1.3"/>
<line x1="298.6" y1="465.8" x2="298.6" y2="471" stroke="#000" stroke-width="1.3"/>
<line x1="328.3" y1="465.8" x2="328.3" y2="471" stroke="#000" stroke-width="1.3"/>
<line x1="358" y1="465.8" x2="358" y2="471" stroke="#000" stroke-width="1.3"/>
<line x1="387.7" y1="465.8" x2="387.7" y2="471" stroke="#000" stroke-width="1.3"/>
<line x1="417.4" y1="465.8" x2="417.4" y2="471" stroke="#000" stroke-width="1.3"/>
<line x1="447.1" y1="465.8" x2="447.1" y2="471" stroke="#000" stroke-width="1.3"/>
<line x1="476.8" y1="465.8" x2="476.8" y2="471" stroke="#000" stroke-width="1.3"/>
<line x1="506.5" y1="465.8" x2="506.5" y2="471" stroke="#000" stroke-width="1.3"/>
<text x="282.3" y="304.45" font-size="8.6" text-anchor="end" fill="#1a1a1a">1.0</text>
<text x="282.3" y="334.95" font-size="8.6" text-anchor="end" fill="#1a1a1a">0.8</text>
<text x="282.3" y="365.45" font-size="8.6" text-anchor="end" fill="#1a1a1a">0.6</text>
<text x="282.3" y="395.95" font-size="8.6" text-anchor="end" fill="#1a1a1a">0.4</text>
<text x="282.3" y="426.45" font-size="8.6" text-anchor="end" fill="#1a1a1a">0.2</text>
<text x="282.3" y="456.95" font-size="8.6" text-anchor="end" fill="#1a1a1a">0.0</text>
<text x="298.6" y="481.6" font-size="8.6" text-anchor="middle" fill="#1a1a1a">0</text>
<text x="328.3" y="481.6" font-size="8.6" text-anchor="middle" fill="#1a1a1a">1</text>
<text x="358" y="481.6" font-size="8.6" text-anchor="middle" fill="#1a1a1a">2</text>
<text x="387.7" y="481.6" font-size="8.6" text-anchor="middle" fill="#1a1a1a">3</text>
<text x="417.4" y="481.6" font-size="8.6" text-anchor="middle" fill="#1a1a1a">4</text>
<text x="447.1" y="481.6" font-size="8.6" text-anchor="middle" fill="#1a1a1a">5</text>
<text x="476.8" y="481.6" font-size="8.6" text-anchor="middle" fill="#1a1a1a">6</text>
<text x="506.5" y="481.6" font-size="8.6" text-anchor="middle" fill="#1a1a1a">7</text>
<text x="346.1" y="505.3" font-size="9.8" textLength="95" lengthAdjust="spacingAndGlyphs" fill="#1a1a1a">Years after induction therapy</text>
<text x="264.7" y="377.5" font-size="9.6" textLength="70.4" lengthAdjust="spacingAndGlyphs" text-anchor="middle" fill="#1a1a1a" transform="rotate(-90 264.7 377.5)">Nonrelapse mortality</text>
<text x="455.6" y="383.9" font-size="8.3" textLength="31.8" lengthAdjust="spacingAndGlyphs" fill="#1a1a1a">p=0.827</text>
</svg>
</body></html>
